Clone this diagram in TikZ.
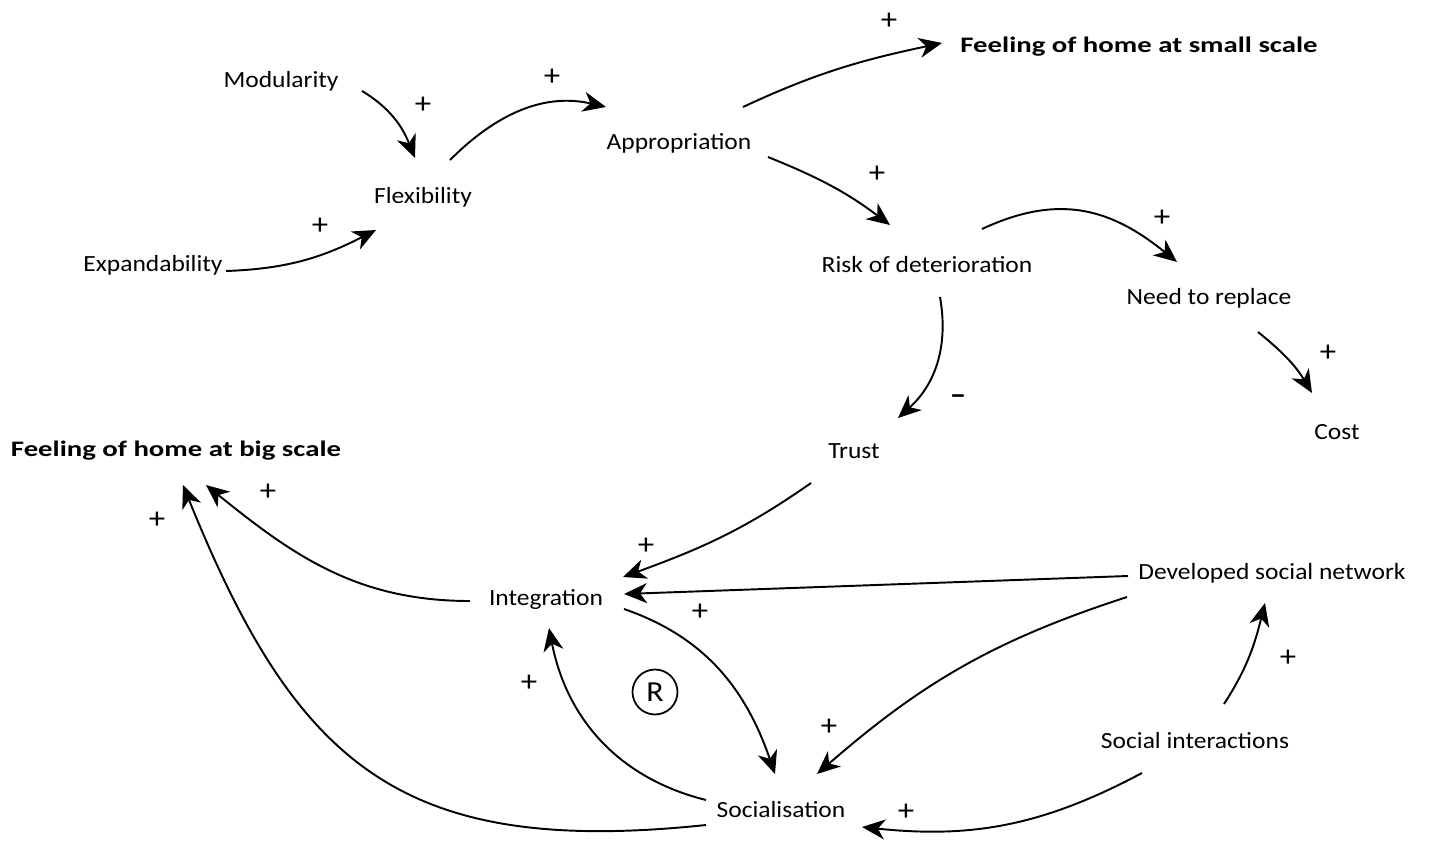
\documentclass[tikz,border=0pt]{standalone}
\usepackage{fontspec}
\setmainfont{Carlito}[FakeStretch=1.1]
\newfontfamily\headfont{Carlito}[FakeStretch=1.3]
\usetikzlibrary{arrows.meta}

\begin{document}
\begin{tikzpicture}[x=0.02cm, y=0.02cm,
    factor/.style={font=\fontsize{13.2}{16}\selectfont, inner sep=2pt},
    outcome/.style={font=\headfont\bfseries\fontsize{12.6}{15}\selectfont, inner sep=2pt},
    sign/.style={font=\fontsize{17}{18}\selectfont, inner sep=0pt},
    link/.style={-{Stealth[length=0.46cm, width=0.4cm, inset=0.14cm]}, line width=1.1pt}]
    \useasboundingbox (0,0) rectangle (1430,-842);

    % variables
    \node[factor] (mod) at (281,-81) {Modularity};
    \node[factor] (flex) at (423,-197) {Flexibility};
    \node[factor] (expand) at (153,-265) {Expandability};
    \node[factor] (approp) at (679,-143) {Appropriation};
    \node[outcome] (homesmall) at (1139,-47) {Feeling of home at small scale};
    \node[factor] (risk) at (927,-265) {Risk of deterioration};
    \node[factor] (replace) at (1209,-298) {Need to replace};
    \node[factor] (cost) at (1337,-432) {Cost};
    \node[factor] (trust) at (854,-451) {Trust};
    \node[outcome] (homebig) at (176,-451) {Feeling of home at big scale};
    \node[factor] (integ) at (546,-599) {Integration};
    \node[factor] (network) at (1272,-573) {Developed social network};
    \node[factor] (interact) at (1195,-741) {Social interactions};
    \node[factor] (social) at (781,-810) {Socialisation};
    \node[draw, circle, line width=1pt, minimum size=0.9cm, inner sep=0pt,
          font=\fontsize{16.5}{18}\selectfont] (loopR) at (655,-692) {R};

    % causal links
    \draw[link] ([shift={(81,-10)}]mod.center) to[out=-31, in=112] ([shift={(-8,39)}]flex.center);
    \draw[link] ([shift={(27,37)}]flex.center) to[out=45, in=167] ([shift={(-73,36)}]approp.center);
    \draw[link] ([shift={(73,-6)}]expand.center) to[out=2, in=207] ([shift={(-47,-33)}]flex.center);
    \draw[link] ([shift={(64,36)}]approp.center) to[out=25, in=192] ([shift={(-197,4)}]homesmall.center);
    \draw[link] ([shift={(89,-14)}]approp.center) to[out=-22, in=143] ([shift={(-37,40)}]risk.center);
    \draw[link] ([shift={(55,36)}]risk.center) to[out=25, in=141, looseness=1.1] ([shift={(-32,36)}]replace.center);
    \draw[link] ([shift={(13,-32)}]risk.center) to[out=-80, in=42] ([shift={(44,33)}]trust.center);
    \draw[link] ([shift={(49,-34)}]replace.center) to[out=-39, in=121] ([shift={(-25,39)}]cost.center);
    \draw[link] ([shift={(-43,-32)}]trust.center) to[out=215, in=20] ([shift={(77,22)}]integ.center);
    \draw[link] ([shift={(-144,-3)}]network.center) -- ([shift={(78,5)}]integ.center);
    \draw[link] ([shift={(78,-10)}]integ.center) to[out=-19, in=109] ([shift={(-6,36)}]social.center);
    \draw[link] ([shift={(-145,-24)}]network.center) to[out=198, in=41] ([shift={(36,36)}]social.center);
    \draw[link] ([shift={(-75,10)}]social.center) to[out=166, in=-79] ([shift={(3,-29)}]integ.center);
    \draw[link] ([shift={(-76,-2)}]integ.center) to[out=180, in=-39] ([shift={(30,-34)}]homebig.center);
    \draw[link] ([shift={(-75,-15)}]social.center) to[out=186, in=-68, looseness=1.25] ([shift={(7,-34)}]homebig.center);
    \draw[link] ([shift={(29,37)}]interact.center) to[out=57, in=-104] ([shift={(-7,-30)}]network.center);
    \draw[link] ([shift={(-53,-32)}]interact.center) to[out=208, in=-6] ([shift={(81,-17)}]social.center);

    % polarities
    \node[sign] (pl1) at (423,-105) {+};
    \node[sign] (pl2) at (552,-77) {+};
    \node[sign] (pl3) at (320,-226) {+};
    \node[sign] (pl4) at (889,-21) {+};
    \node[sign] (pl5) at (877,-174) {+};
    \node[sign] (pl6) at (1162,-218) {+};
    \node[sign] (mi1) at (958,-400) {\bfseries –};
    \node[sign] (pl7) at (1328,-353) {+};
    \node[sign] (pl8) at (646,-546) {+};
    \node[sign] (pl9) at (700,-612) {+};
    \node[sign] (pl10) at (829,-727) {+};
    \node[sign] (pl11) at (529,-683) {+};
    \node[sign] (pl12) at (268,-492) {+};
    \node[sign] (pl13) at (157,-520) {+};
    \node[sign] (pl14) at (1288,-658) {+};
    \node[sign] (pl15) at (906,-812) {+};
\end{tikzpicture}
\end{document}
